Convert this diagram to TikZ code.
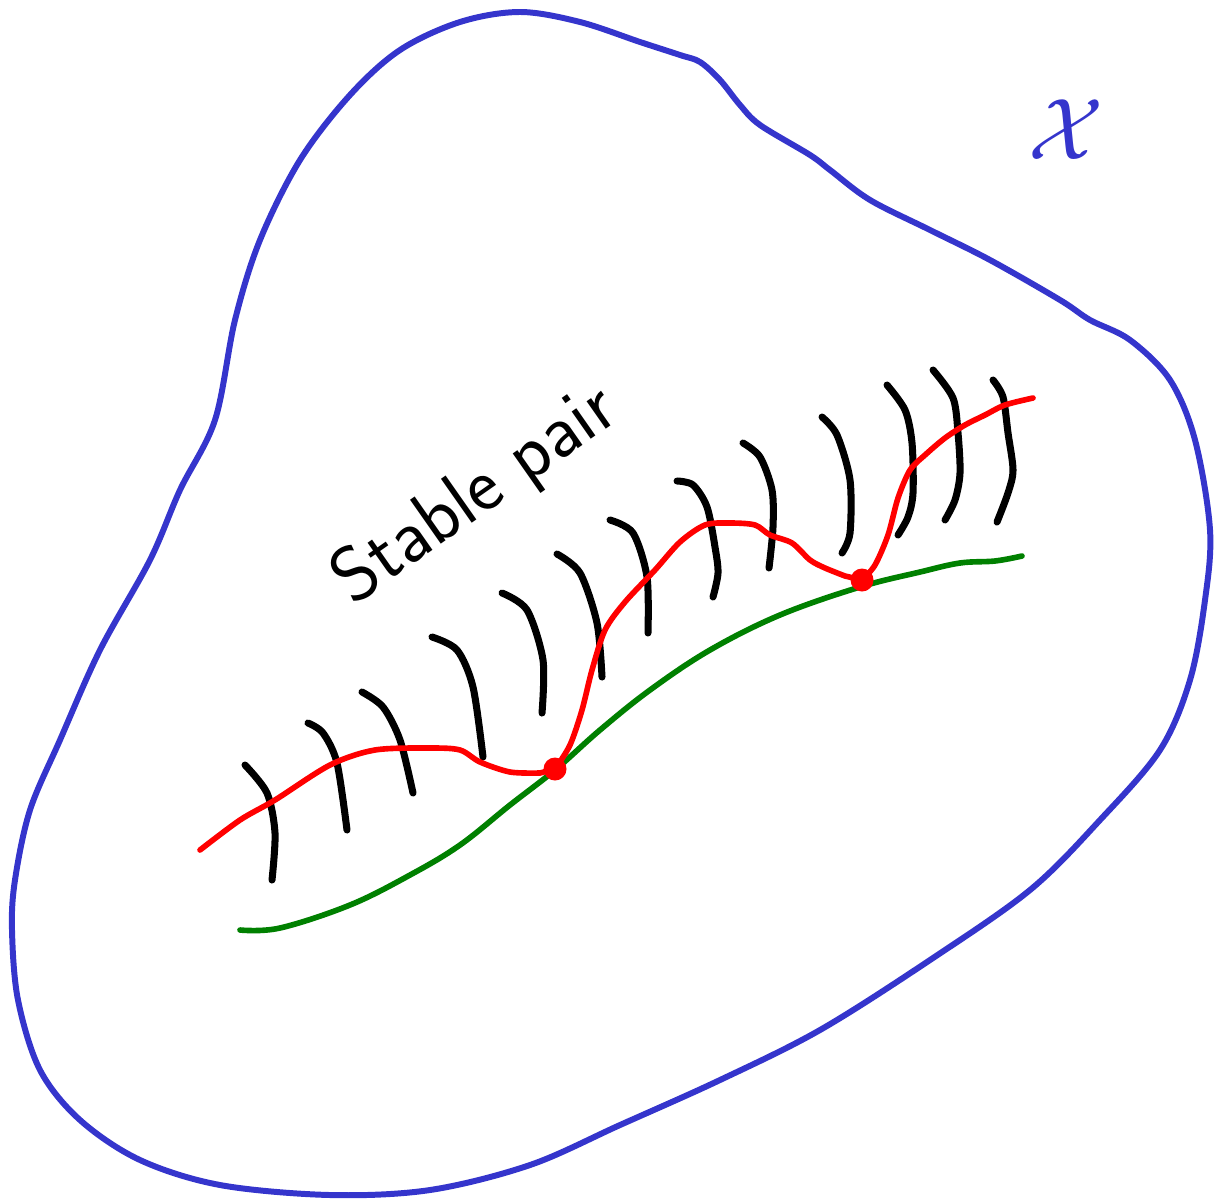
\documentclass[tikz,border=0pt]{standalone}
\usepackage{amsmath}
\usepackage{amssymb}
\usepackage{tikz}
\usepackage{xcolor}
\usetikzlibrary{arrows.meta, positioning, calc}
\definecolor{spaceblue}{HTML}{3535CC}
\definecolor{pairred}{HTML}{FF0000}
\definecolor{basegreen}{HTML}{008000}

\begin{document}
\begin{tikzpicture}[
    x=1cm, y=-1cm,
    outline/.style={draw=spaceblue, line width=1.7pt, line cap=round, line join=round},
    redpath/.style={draw=pairred, line width=1.6pt, line cap=round, line join=round},
    greenpath/.style={draw=basegreen, line width=1.6pt, line cap=round},
    hatch/.style={draw=black, line width=2pt, line cap=round},
    hitdot/.style={circle, fill=pairred, inner sep=0pt, minimum size=0.23cm},
]
    \useasboundingbox (0,0) rectangle (12.22,12.01);

    % Space X
    \draw[outline] plot[smooth cycle, tension=0.55] coordinates {
        (5.20,0.12) (5.80,0.22) (6.40,0.42) (6.80,0.55) (7.00,0.62) (7.20,0.80)
        (7.40,1.05) (7.60,1.25) (8.10,1.55) (8.30,1.70) (8.70,2.00) (9.30,2.30)
        (9.90,2.60) (10.60,3.00) (10.90,3.20) (11.30,3.40) (11.70,3.80)
        (11.95,4.40) (12.10,5.30) (12.05,6.00) (11.90,6.80) (11.60,7.50)
        (11.00,8.20) (10.30,8.90) (9.30,9.60) (8.20,10.30) (7.20,10.80)
        (6.20,11.25) (5.30,11.65) (4.30,11.90) (3.30,11.95) (2.20,11.85)
        (1.40,11.60) (0.80,11.20) (0.40,10.70) (0.18,10.00) (0.12,9.30)
        (0.15,8.80) (0.30,8.10) (0.60,7.40) (1.00,6.50) (1.50,5.60)
        (1.80,4.90) (2.15,4.20) (2.35,3.20) (2.60,2.40) (3.00,1.60)
        (3.50,0.95) (4.00,0.50) (4.60,0.22)
    };
    \node[text=spaceblue, font=\fontsize{30}{32}\selectfont] (spacelabel) at (10.66,1.30) {$\mathcal{X}$};

    % Label
    \node[rotate=35, font=\sffamily\fontsize{22}{24}\selectfont] (pairlabel) at (4.76,4.96) {Stable pair};

    % Base curve
    \draw[greenpath] plot[smooth, tension=0.6] coordinates {
        (2.40,9.30) (2.80,9.28) (3.50,9.05) (4.10,8.75) (4.60,8.45) (5.10,8.05)
        (5.55,7.70) (6.00,7.30) (6.50,6.90) (7.10,6.50) (7.80,6.15) (8.60,5.87)
        (9.20,5.72) (9.60,5.63) (9.95,5.61) (10.22,5.56)
    };

    % Fibres
    \draw[hatch] plot[smooth] coordinates {(2.45,7.65) (2.67,7.93) (2.75,8.33) (2.72,8.80)};
    \draw[hatch] plot[smooth] coordinates {(3.08,7.23) (3.23,7.33) (3.37,7.63) (3.47,8.30)};
    \draw[hatch] plot[smooth] coordinates {(3.62,6.92) (3.83,7.07) (4.00,7.40) (4.13,7.93)};
    \draw[hatch] plot[smooth] coordinates {(4.32,6.37) (4.57,6.50) (4.73,6.87) (4.83,7.57)};
    \draw[hatch] plot[smooth] coordinates {(5.02,5.93) (5.27,6.10) (5.43,6.60) (5.42,7.13)};
    \draw[hatch] plot[smooth] coordinates {(5.57,5.54) (5.80,5.73) (5.97,6.23) (6.02,6.77)};
    \draw[hatch] plot[smooth] coordinates {(6.10,5.20) (6.33,5.33) (6.47,5.77) (6.48,6.33)};
    \draw[hatch] plot[smooth] coordinates {(6.77,4.81) (6.93,4.85) (7.07,5.07) (7.15,5.47) (7.18,5.73) (7.13,5.97)};
    \draw[hatch] plot[smooth] coordinates {(7.43,4.43) (7.60,4.57) (7.72,4.90) (7.73,5.27) (7.69,5.68)};
    \draw[hatch] plot[smooth] coordinates {(8.22,4.17) (8.37,4.35) (8.50,4.80) (8.50,5.33) (8.42,5.53)};
    \draw[hatch] plot[smooth] coordinates {(8.87,3.85) (9.05,4.10) (9.12,4.43) (9.13,4.93) (9.08,5.17) (8.98,5.35)};
    \draw[hatch] plot[smooth] coordinates {(9.33,3.70) (9.53,3.98) (9.58,4.33) (9.60,4.73) (9.55,5.00) (9.45,5.20)};
    \draw[hatch] plot[smooth] coordinates {(9.93,3.80) (10.03,3.97) (10.08,4.33) (10.13,4.70) (10.08,4.93) (9.97,5.22)};

    % Section
    \node[hitdot] (hitone) at (5.55,7.69) {};
    \node[hitdot] (hittwo) at (8.62,5.80) {};
    \draw[redpath] plot[smooth, tension=0.5] coordinates {
        (2.00,8.50) (2.40,8.20) (2.75,8.00) (3.30,7.65) (3.75,7.50) (4.30,7.48)
        (4.60,7.50) (4.80,7.62) (5.10,7.72) (5.40,7.73)} -- (hitone.center);
    \draw[redpath] plot[smooth, tension=0.5] coordinates {
        (5.55,7.69) (5.70,7.45) (5.82,7.10) (5.92,6.70) (6.05,6.30) (6.25,6.02)
        (6.55,5.70) (6.80,5.42) (7.05,5.25) (7.30,5.23) (7.55,5.25) (7.70,5.35)
        (7.92,5.43) (8.10,5.60) (8.25,5.68) (8.45,5.76)} -- (hittwo.center);
    \draw[redpath] plot[smooth, tension=0.5] coordinates {
        (8.62,5.80) (8.75,5.65) (8.88,5.35) (8.98,4.98) (9.10,4.70) (9.25,4.55)
        (9.45,4.38) (9.65,4.25) (9.85,4.15) (10.05,4.05) (10.33,3.98)};
\end{tikzpicture}
\end{document}
